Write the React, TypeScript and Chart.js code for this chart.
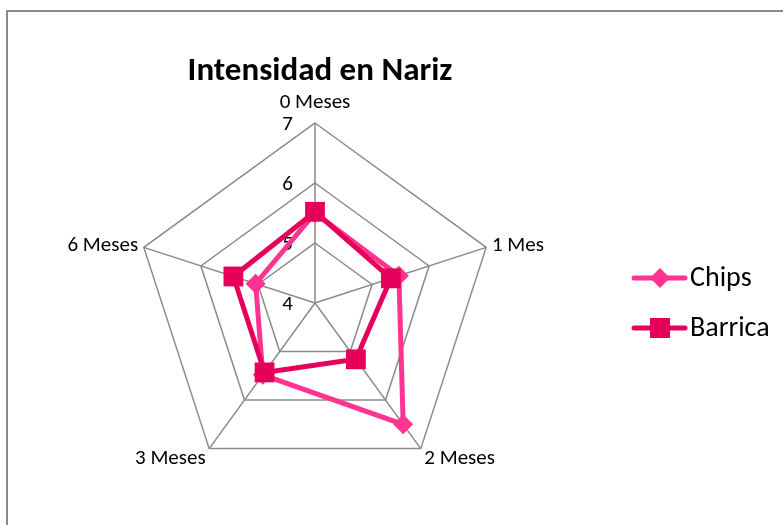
import React, { useEffect, useRef } from "react";
import { Chart, registerables } from "chart.js";

Chart.register(...registerables);

const categories = ["0 Meses", "1 Mes", "2 Meses", "3 Meses", "6 Meses"];
const chipsValues = [5.5, 5.47, 6.5, 5.48, 5.04];
const barricaValues = [5.52, 5.33, 5.16, 5.43, 5.43];
const tickValues = [4, 5, 6, 7];
const seriesNames = ["Chips", "Barrica"];
const titleText = "Intensidad en Nariz";

const FONT = "Carlito, Calibri, Lato, sans-serif";
const CHIPS_COLOR = "#FF3390";
const BARRICA_COLOR = "#E6005C";
const GRID_COLOR = "#8a8a8a";

const overlay = {
  id: "overlay",
  beforeDatasetsDraw(chart: any) {
    const ctx = chart.ctx;
    const scale = chart.scales.r;
    ctx.save();
    ctx.fillStyle = "#000";
    ctx.font = `21px ${FONT}`;
    ctx.textAlign = "right";
    ctx.textBaseline = "middle";
    tickValues.forEach((v) => {
      const p = scale.getPointPositionForValue(0, v);
      ctx.fillText(String(v), p.x - 22, p.y + 2);
    });
    ctx.restore();
  },
  afterDraw(chart: any) {
    const ctx = chart.ctx;
    const scale = chart.scales.r;
    ctx.save();
    // border
    ctx.strokeStyle = "#888";
    ctx.lineWidth = 2;
    ctx.beginPath();
    ctx.moveTo(7, 530);
    ctx.lineTo(7, 11);
    ctx.lineTo(790, 11);
    ctx.stroke();

    // title
    ctx.fillStyle = "#000";
    ctx.font = `bold 33px ${FONT}`;
    ctx.textAlign = "center";
    ctx.textBaseline = "middle";
    ctx.fillText(titleText, 320, 72);

    // point labels
    ctx.font = `21px ${FONT}`;
    categories.forEach((label, i) => {
      const p = scale.getPointPosition(i, scale.drawingArea + 6);
      const c = scale.getPointPosition(i, 0);
      const dx = p.x - c.x;
      const dy = p.y - c.y;
      let y = p.y;
      if (Math.abs(dx) < 1) {
        ctx.textAlign = "center";
        y = p.y - 14;
      } else {
        ctx.textAlign = dx > 0 ? "left" : "right";
        y = dy > 0 ? p.y + 5 : p.y;
      }
      ctx.fillText(label, p.x, y);
    });

    // legend
    const items = [
      { name: seriesNames[0], color: CHIPS_COLOR, style: "rectRot", y: 278 },
      { name: seriesNames[1], color: BARRICA_COLOR, style: "rect", y: 328 },
    ];
    items.forEach((it) => {
      ctx.strokeStyle = it.color;
      ctx.lineWidth = 5;
      ctx.lineCap = "round";
      ctx.beginPath();
      ctx.moveTo(634, it.y);
      ctx.lineTo(685, it.y);
      ctx.stroke();
      ctx.fillStyle = it.color;
      if (it.style === "rect") {
        ctx.fillRect(650, it.y - 10, 20, 20);
      } else {
        ctx.beginPath();
        ctx.moveTo(660, it.y - 10);
        ctx.lineTo(670, it.y);
        ctx.lineTo(660, it.y + 10);
        ctx.lineTo(650, it.y);
        ctx.closePath();
        ctx.fill();
      }
      ctx.fillStyle = "#000";
      ctx.font = `28px ${FONT}`;
      ctx.textAlign = "left";
      ctx.textBaseline = "middle";
      ctx.fillText(it.name, 690, it.y + 1);
    });
    ctx.restore();
  },
};

export default function App() {
  const ref = useRef<HTMLCanvasElement>(null);
  useEffect(() => {
    document.body.style.margin = "0";
    const chart = new Chart(ref.current!, {
      type: "radar",
      data: {
        labels: categories,
        datasets: [
          {
            label: seriesNames[0],
            data: chipsValues,
            borderColor: CHIPS_COLOR,
            backgroundColor: CHIPS_COLOR,
            borderWidth: 5,
            pointStyle: "rectRot",
            pointRadius: 10,
            pointBorderWidth: 0,
            fill: false,
            order: 1,
          },
          {
            label: seriesNames[1],
            data: barricaValues,
            borderColor: BARRICA_COLOR,
            backgroundColor: BARRICA_COLOR,
            borderWidth: 5,
            pointStyle: "rect",
            pointRadius: 14,
            pointBorderWidth: 0,
            fill: false,
            order: 0,
          },
        ],
      },
      options: {
        animation: false,
        responsive: false,
        devicePixelRatio: 1,
        layout: { padding: { left: 135, top: 123, right: 288, bottom: 42 } },
        plugins: {
          legend: { display: false },
          title: { display: false },
          tooltip: { enabled: false },
        },
        scales: {
          r: {
            min: 4,
            max: 7,
            ticks: { display: false, stepSize: 1 },
            pointLabels: { display: false },
            grid: { color: GRID_COLOR, lineWidth: 1.5 },
            angleLines: { color: GRID_COLOR, lineWidth: 1.5 },
          },
        },
      },
      plugins: [overlay],
    });
    return () => chart.destroy();
  }, []);
  return <canvas ref={ref} width={783} height={525} style={{ display: "block" }} />;
}
